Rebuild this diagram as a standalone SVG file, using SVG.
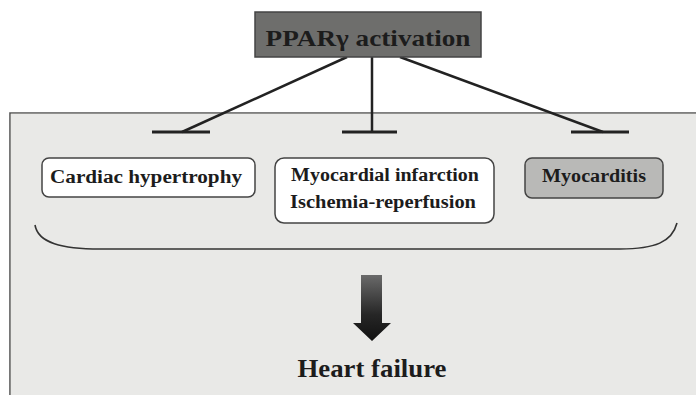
<svg xmlns="http://www.w3.org/2000/svg" width="696" height="395" viewBox="0 0 696 395">
<defs>
<style>
.t{font-family:"Liberation Serif","Times New Roman",serif;font-weight:bold;fill:#1c1c1c}
.box{stroke:#444;stroke-width:1.5}
.ln{stroke:#222;stroke-width:2.5;fill:none}
.bar{stroke:#222;stroke-width:3}
</style>
<linearGradient id="ag" x1="0" y1="0" x2="0" y2="1">
<stop offset="0" stop-color="#6a6a6a"/>
<stop offset="0.6" stop-color="#262626"/>
<stop offset="1" stop-color="#111"/>
</linearGradient>
</defs>
<rect width="696" height="395" fill="#fff"/>
<g id="panel">
<path d="M698 113 L10 113 L10 397" fill="#e9e9e7" stroke="#555" stroke-width="1.6"/>
<rect x="10.8" y="113.8" width="690" height="290" fill="#e9e9e7"/>
</g>
<g id="connectors">
<line class="ln" x1="347" y1="57" x2="182" y2="132"/>
<line class="ln" x1="372" y1="57" x2="372" y2="132"/>
<line class="ln" x1="400" y1="57" x2="603" y2="132"/>
<line class="bar" x1="152" y1="132" x2="210" y2="132"/>
<line class="bar" x1="342" y1="132" x2="397" y2="132"/>
<line class="bar" x1="571" y1="132" x2="629" y2="132"/>
<path d="M35 225 C38 243 62 249 100 249 L620 249 C655 249 672 242 677 223" fill="none" stroke="#333" stroke-width="1.6"/>
</g>
<g id="ppar">
<rect class="box" x="255" y="12" width="226" height="45" fill="#6e6e6c" stroke="#222" stroke-width="2"/>
<text class="t" x="368" y="46" font-size="24" text-anchor="middle" textLength="205" lengthAdjust="spacingAndGlyphs" fill="#14201a">PPARγ activation</text>
</g>
<g id="hypertrophy">
<rect class="box" x="42" y="158" width="213" height="39" rx="7" fill="#fff"/>
<text class="t" x="146" y="183" font-size="18" text-anchor="middle" textLength="192" lengthAdjust="spacingAndGlyphs">Cardiac hypertrophy</text>
</g>
<g id="infarction">
<rect class="box" x="275" y="158" width="219" height="65" rx="9" fill="#fff"/>
<text class="t" x="385" y="181" font-size="18" text-anchor="middle" textLength="188" lengthAdjust="spacingAndGlyphs">Myocardial infarction</text>
<text class="t" x="383" y="208" font-size="18" text-anchor="middle" textLength="186" lengthAdjust="spacingAndGlyphs">Ischemia-reperfusion</text>
</g>
<g id="myocarditis">
<rect class="box" x="525" y="158" width="138" height="40" rx="7" fill="#b9b9b7"/>
<text class="t" x="594" y="182" font-size="18" text-anchor="middle" textLength="104" lengthAdjust="spacingAndGlyphs" fill="#333">Myocarditis</text>
</g>
<g id="arrow">
<path d="M361 275 L382 275 L382 323 L391 323 L372 341 L353 323 L361 323 Z" fill="url(#ag)"/>
</g>
<g id="heartfailure">
<text class="t" x="372" y="377" font-size="25" text-anchor="middle" textLength="149" lengthAdjust="spacingAndGlyphs">Heart failure</text>
</g>
</svg>
